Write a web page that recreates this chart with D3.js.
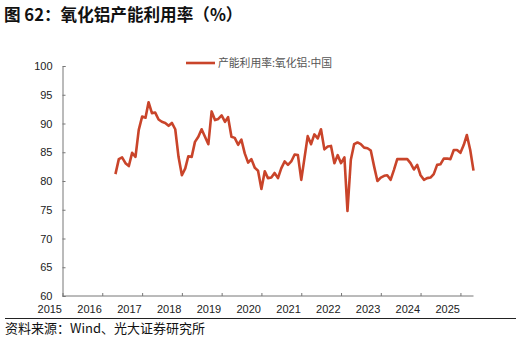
<!DOCTYPE html>
<html><head><meta charset="utf-8">
<script src="https://cdn.jsdelivr.net/npm/d3@7"></script>
<style>
body{margin:0;background:#fff;}
svg{display:block;font-family:"Liberation Sans",Arial,sans-serif;}
</style></head>
<body><svg id="c" width="516" height="338"></svg>
<script>
const title = "图 62：氧化铝产能利用率（%）";
const source = "资料来源：Wind、光大证券研究所";
const seriesName = "产能利用率:氧化铝:中国";
const startMonth = "2016-05";
const values = [81.2,83.8,84.1,83.1,82.6,84.9,84.2,88.9,91.2,91.0,93.7,91.8,91.9,90.7,90.3,90.1,89.6,90.1,89.0,84.2,
81.0,82.2,84.3,84.2,86.8,87.7,89.0,87.7,86.4,92.1,90.6,90.8,91.4,90.3,91.1,87.7,87.5,86.3,87.2,84.8,
83.2,83.8,82.3,81.8,78.6,81.7,80.5,80.6,81.4,80.5,82.2,83.4,82.8,83.4,84.6,84.5,80.2,84.2,87.8,86.4,
88.1,87.4,89.0,85.5,86.0,86.1,83.1,84.5,83.1,84.1,74.8,83.7,86.4,86.7,86.4,85.8,85.7,85.3,82.5,80.0,
80.6,80.9,81.0,80.2,81.9,83.8,83.8,83.8,83.8,83.1,82.0,82.8,81.0,80.2,80.5,80.6,81.2,82.8,82.9,83.9,
83.9,83.8,85.4,85.4,84.9,86.3,88.0,85.4,81.8];
const yTicks = [60,65,70,75,80,85,90,95,100];
const xTickYears = [2015,2016,2017,2018,2019,2020,2021,2022,2023,2024,2025];

const color = "#c9442a";
const svg = d3.select("#c");
const parse = d3.timeParse("%Y-%m");
const t0 = parse(startMonth);
const data = values.map((v,i)=>({d:d3.timeMonth.offset(t0,i), v}));

const x = d3.scaleTime().domain([new Date(2015,0,1), new Date(2025,4,1)]).range([62.5, 473.5]);
const y = d3.scaleLinear().domain([60,100]).range([296,66]);

svg.append("text").attr("x",4).attr("y",21).attr("font-family","'Noto Sans CJK SC',sans-serif")
  .attr("font-weight","bold").attr("font-size",16.6).attr("fill","#111").text(title);

// Y axis
const yAxis = d3.axisRight(y).tickValues(yTicks).tickSize(3).tickFormat(d3.format("d"));
const gy = svg.append("g").attr("transform","translate(62.5,0)").call(yAxis);
gy.select(".domain").attr("stroke","#777");
gy.selectAll(".tick line").attr("stroke","#777");
gy.selectAll(".tick text").attr("x",-10).attr("text-anchor","end").attr("font-size",11).attr("fill","#222")
  .attr("font-family","'Liberation Sans',Arial,sans-serif");

// X axis
const xAxis = d3.axisTop(x).tickValues(xTickYears.map(yr=>new Date(yr,0,1))).tickSize(3).tickFormat(d3.timeFormat("%Y"));
const gx = svg.append("g").attr("transform","translate(0,296)").call(xAxis);
gx.select(".domain").attr("stroke","#777").attr("d","M62.5,0H473.5");
gx.selectAll(".tick line").attr("stroke","#777");
gx.selectAll(".tick text").attr("y",17).attr("dy","0").attr("x",-1).attr("text-anchor","end").attr("font-size",11).attr("fill","#222")
  .attr("font-family","'Liberation Sans',Arial,sans-serif");

// Line
svg.append("path").datum(data)
  .attr("fill","none").attr("stroke",color).attr("stroke-width",2.6).attr("stroke-linejoin","round")
  .attr("d", d3.line().x(d=>x(d.d)).y(d=>y(d.v)));

// Legend
svg.append("line").attr("x1",186).attr("x2",215).attr("y1",63).attr("y2",63).attr("stroke",color).attr("stroke-width",2.6);
svg.append("text").attr("x",218).attr("y",67).attr("font-size",10.8).attr("fill","#555")
  .attr("font-family","'Noto Sans CJK SC',sans-serif").text(seriesName);

// Bottom rule and source
svg.append("line").attr("x1",5).attr("x2",516).attr("y1",318.5).attr("y2",318.5).attr("stroke","#222").attr("stroke-width",1);
svg.append("text").attr("x",5).attr("y",333).attr("font-size",13).attr("fill","#111")
  .attr("font-family","'Noto Sans CJK SC',sans-serif").text(source);
</script></body></html>
